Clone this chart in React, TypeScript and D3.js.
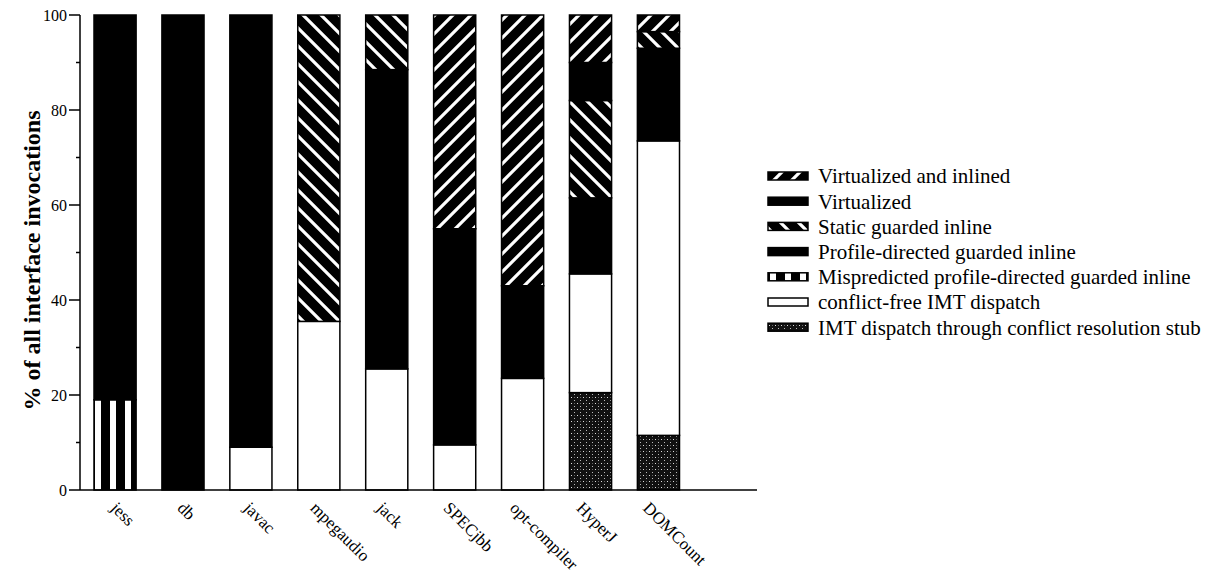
import React from 'react';
import * as d3 from 'd3';

// benchmarks along the x axis
const benchmarks = ['jess', 'db', 'javac', 'mpegaudio', 'jack', 'SPECjbb', 'opt-compiler', 'HyperJ', 'DOMCount'];

// series, bottom of the stack first (percent of all interface invocations)
const imtStub = [0, 0, 0, 0, 0, 0, 0, 20.5, 11.5];
const conflictFree = [0, 0, 9, 35.5, 25.5, 9.5, 23.5, 25, 62];
const mispredicted = [19, 0, 0, 0, 0, 0, 0, 0, 0];
const profileDirected = [81, 100, 91, 0, 63, 45.5, 19.5, 16, 19.5];
const staticGuarded = [0, 0, 0, 64.5, 11.5, 0, 0, 20.5, 3.5];
const virtualized = [0, 0, 0, 0, 0, 0, 0, 8, 0];
const virtualizedInlined = [0, 0, 0, 0, 0, 45, 57, 10, 3.5];

const seriesKeys = ['imtStub', 'conflictFree', 'mispredicted', 'profileDirected', 'staticGuarded', 'virtualized', 'virtualizedInlined'];
const seriesLabels = [
  'IMT dispatch through conflict resolution stub',
  'conflict-free IMT dispatch',
  'Mispredicted profile-directed guarded inline',
  'Profile-directed guarded inline',
  'Static guarded inline',
  'Virtualized',
  'Virtualized and inlined',
];
const yTicks = [0, 20, 40, 60, 80, 100];
const yMinorTicks = [10, 30, 50, 70, 90];

const fills: Record<string, string> = {
  imtStub: 'url(#pat-stub)',
  conflictFree: '#fff',
  mispredicted: 'url(#pat-mispred)',
  profileDirected: '#000',
  staticGuarded: 'url(#pat-back)',
  virtualized: '#000',
  virtualizedInlined: 'url(#pat-fwd)',
};

const FONT = '"Liberation Serif", "Times New Roman", serif';

const App = () => {
  const table = benchmarks.map((b, i) => ({
    name: b,
    imtStub: imtStub[i],
    conflictFree: conflictFree[i],
    mispredicted: mispredicted[i],
    profileDirected: profileDirected[i],
    staticGuarded: staticGuarded[i],
    virtualized: virtualized[i],
    virtualizedInlined: virtualizedInlined[i],
  }));

  const stacked = d3.stack<any>().keys(seriesKeys)(table);

  const x = d3.scaleBand()
    .domain(benchmarks)
    .range([80, 693.5])
    .paddingInner(0.38)
    .paddingOuter(0.206);

  // tick labels sit on a slightly tighter spacing than the bars
  const labelX = d3.scalePoint()
    .domain(benchmarks)
    .range([110, 642]);

  const y = d3.scaleLinear()
    .domain([0, 100])
    .range([490, 15]);

  const axisX = 80;
  const axisEnd = 757;

  // legend drawn top to bottom in reverse stack order
  const legendItems = seriesKeys.map((k, i) => ({ key: k, label: seriesLabels[i] })).reverse();

  return (
    <div style={{ position: 'absolute', left: 0, top: 0 }}>
      <svg width={1211} height={578} style={{ display: 'block', background: '#fff' }}>
        <defs>
          {/* "/" hatch: virtualized and inlined */}
          <pattern id="pat-fwd" patternUnits="userSpaceOnUse" width={18} height={18}>
            <rect width={18} height={18} fill="#000" />
            <path d="M-4,4 L4,-4 M0,18 L18,0 M14,22 L22,14" stroke="#fff" strokeWidth={3.2} />
          </pattern>
          {/* "\" hatch: static guarded inline */}
          <pattern id="pat-back" patternUnits="userSpaceOnUse" width={18} height={18}>
            <rect width={18} height={18} fill="#000" />
            <path d="M-4,14 L4,22 M0,0 L18,18 M14,-4 L22,4" stroke="#fff" strokeWidth={3.2} />
          </pattern>
          {/* vertical white bars: mispredicted */}
          <pattern id="pat-mispred" patternUnits="userSpaceOnUse" x={95} y={0} width={15} height={10}>
            <rect width={15} height={10} fill="#000" />
            <rect x={0} width={6} height={10} fill="#fff" />
          </pattern>
          {/* stipple: conflict resolution stub */}
          <pattern id="pat-stub" patternUnits="userSpaceOnUse" width={6} height={6}>
            <rect width={6} height={6} fill="#111" />
            <rect x={1} y={1} width={1} height={1} fill="#ddd" />
            <rect x={4} y={4} width={1} height={1} fill="#bbb" />
            <rect x={4} y={1} width={1} height={1} fill="#666" />
          </pattern>
        </defs>

        {/* bars */}
        {stacked.map((s) => (
          <g key={s.key}>
            {s.map((d, i) => {
              const h = y(d[0]) - y(d[1]);
              if (h <= 0) return null;
              return (
                <rect
                  key={i}
                  x={x(benchmarks[i])}
                  y={y(d[1])}
                  width={x.bandwidth()}
                  height={h}
                  fill={fills[s.key]}
                  stroke="#000"
                  strokeWidth={1.5}
                />
              );
            })}
          </g>
        ))}

        {/* y axis */}
        <line x1={axisX} x2={axisX} y1={y(0)} y2={y(100)} stroke="#000" strokeWidth={1.5} />
        {yTicks.map((t) => (
          <g key={t}>
            <line x1={axisX - 11} x2={axisX} y1={y(t)} y2={y(t)} stroke="#000" strokeWidth={1.5} />
            <text x={axisX - 13} y={y(t)} dy="0.35em" textAnchor="end" fontFamily={FONT} fontSize={16}>
              {t}
            </text>
          </g>
        ))}
        {yMinorTicks.map((t) => (
          <line key={t} x1={axisX - 4} x2={axisX} y1={y(t)} y2={y(t)} stroke="#000" strokeWidth={1.5} />
        ))}
        <text
          transform={`translate(32,${(y(0) + y(100)) / 2 + 8}) rotate(-90)`}
          textAnchor="middle"
          dy="0.35em"
          fontFamily={FONT}
          fontWeight="bold"
          fontSize={24}
        >
          % of all interface invocations
        </text>

        {/* x axis */}
        <line x1={axisX} x2={axisEnd} y1={y(0)} y2={y(0)} stroke="#000" strokeWidth={1.5} />
        {benchmarks.map((b) => (
          <text
            key={b}
            transform={`translate(${labelX(b)},${y(0) + 19}) rotate(45)`}
            fontFamily={FONT}
            fontSize={17}
          >
            {b}
          </text>
        ))}

        {/* legend */}
        {legendItems.map((it, i) => {
          const cy = 176 + i * 25.2;
          return (
            <g key={it.key}>
              <rect x={768} y={cy - 4} width={40} height={8} fill={fills[it.key]} stroke="#000" strokeWidth={1.5} />
              <text x={818} y={cy} dy="0.35em" fontFamily={FONT} fontSize={21}>
                {it.label}
              </text>
            </g>
          );
        })}
      </svg>
    </div>
  );
};

export default App;
